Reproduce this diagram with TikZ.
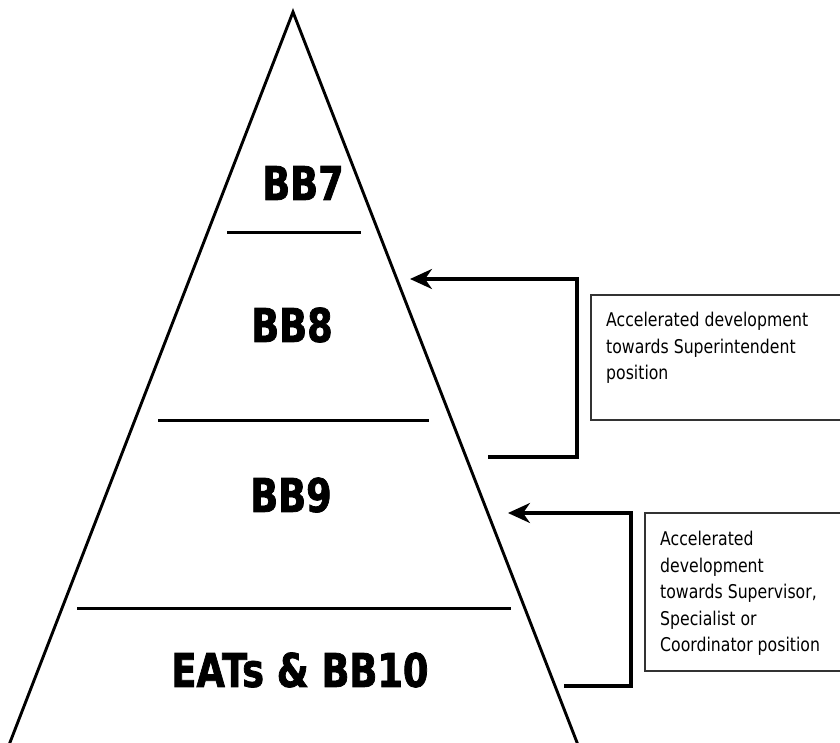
\documentclass[tikz,border=0pt]{standalone}
\usepackage{fontspec}
\usetikzlibrary{arrows.meta}
\newfontfamily\headfont[FakeStretch=0.79,FakeBold=1.6]{DejaVu Sans}
\newfontfamily\boxfont[FakeStretch=0.83]{DejaVu Sans}
\begin{document}
\begin{tikzpicture}[x=1bp,y=-1bp,
  level/.style={font=\headfont\bfseries\fontsize{46.6}{50}\selectfont, inner sep=0pt, anchor=center},
  divider/.style={line width=3bp},
  tri/.style={line width=2.9bp, line join=miter},
  arrowline/.style={line width=3.2bp, -{Stealth[length=22bp,width=20bp,inset=7bp]}},
  infobox/.style={draw=black!80, line width=1.8bp},
  infotext/.style={font=\boxfont\fontsize{19}{26.7}\selectfont, align=left, inner sep=0pt, anchor=north west}]
\useasboundingbox (0,0) rectangle (840,743);
\clip (0,0) rectangle (840,743);
% pyramid
\coordinate (apex) at (293,12);
\coordinate (bl) at (9,745);
\coordinate (br) at (578,745);
\draw[tri] (bl) -- (apex) -- (br);
% dividers
\coordinate (d1l) at (227,232); \coordinate (d1r) at (361,232);
\coordinate (d2l) at (158,420); \coordinate (d2r) at (429,420);
\coordinate (d3l) at (77,608);  \coordinate (d3r) at (511,608);
\draw[divider] (d1l) -- (d1r);
\draw[divider] (d2l) -- (d2r);
\draw[divider] (d3l) -- (d3r);
% level labels
\node[level] (bb7) at (303,183) {BB7};
\node[level] (bb8) at (292,325) {BB8};
\node[level] (bb9) at (291,495) {BB9};
\node[level] (bb10) at (300,670) {EATs \& BB10};
% info boxes
\draw[infobox] (591,295) rectangle (860,420);
\node[infotext] (t1) at (606,312) {Accelerated development\\towards Superintendent\\position};
\draw[infobox] (645,513) rectangle (860,671);
\node[infotext] (t2) at (660,531) {Accelerated\\development\\towards Supervisor,\\Specialist or\\Coordinator position};
% arrows
\coordinate (a1s) at (488,457); \coordinate (a1b) at (577,457);
\coordinate (a1u) at (577,279); \coordinate (a1t) at (410,279);
\draw[arrowline] (a1s) -- (a1b) -- (a1u) -- (a1t);
\coordinate (a2s) at (564,686); \coordinate (a2b) at (631,686);
\coordinate (a2u) at (631,513); \coordinate (a2t) at (508,513);
\draw[arrowline] (a2s) -- (a2b) -- (a2u) -- (a2t);
\end{tikzpicture}
\end{document}
